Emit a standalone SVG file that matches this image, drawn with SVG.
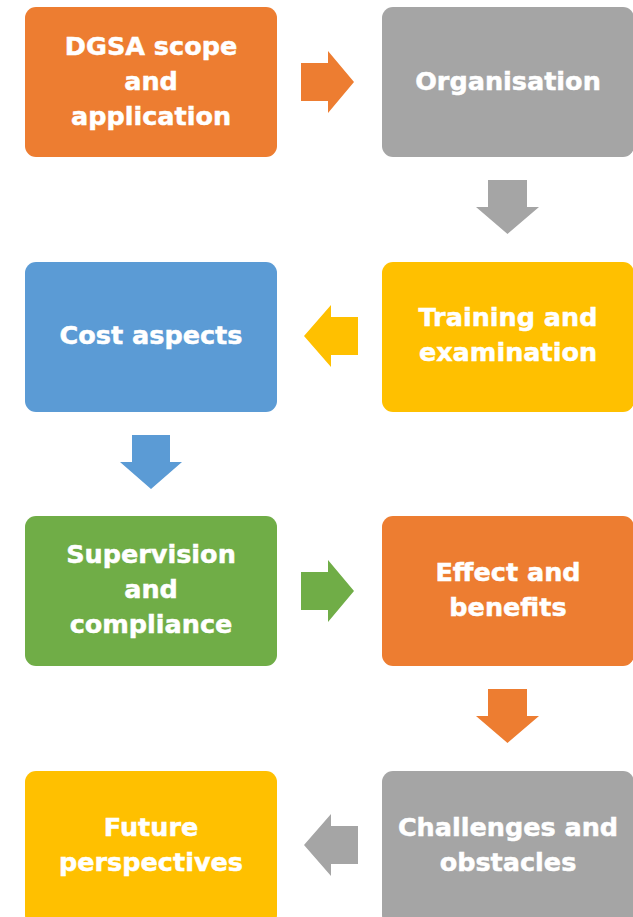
<svg xmlns="http://www.w3.org/2000/svg" width="633" height="917" viewBox="0 0 633 917">
  <style>
    .box { stroke: none; }
    .lbl { font-family: "DejaVu Sans", "Liberation Sans", sans-serif; font-weight: bold; font-size: 25.5px; fill: #ffffff; stroke: #ffffff; stroke-width: 0.5px; text-anchor: middle; }
    .orange { fill: #ED7D31; }
    .gray { fill: #A5A5A5; }
    .yellow { fill: #FFC000; }
    .blue { fill: #5B9BD5; }
    .green { fill: #70AD47; }
  </style>
  <rect width="633" height="917" fill="#ffffff"/>

  <g id="connectors">
    <!-- row 1: right -->
    <polygon class="orange" points="301,63 328,63 328,51 354,82 328,113 328,101 301,101"/>
    <!-- right column: down -->
    <polygon class="gray" points="488,180 527,180 527,207 539,207 507.5,234 476,207 488,207"/>
    <!-- row 2: left -->
    <polygon class="yellow" points="358,317 331,317 331,305 304,336 331,367 331,355 358,355"/>
    <!-- left column: down -->
    <polygon class="blue" points="132,435 170,435 170,462 182,462 151,489 120,462 132,462"/>
    <!-- row 3: right -->
    <polygon class="green" points="301,572 328,572 328,560 354,591 328,622 328,610 301,610"/>
    <!-- right column: down -->
    <polygon class="orange" points="488,689 527,689 527,716 539,716 507.5,743 476,716 488,716"/>
    <!-- row 4: left -->
    <polygon class="gray" points="358,826 331,826 331,814 304,845 331,876 331,864 358,864"/>
  </g>

  <g id="scope">
    <rect class="box orange" x="25" y="7" width="252" height="150" rx="11"/>
    <text class="lbl" x="151" y="55">DGSA scope</text>
    <text class="lbl" x="151" y="90">and</text>
    <text class="lbl" x="151" y="125">application</text>
  </g>
  <g id="organisation">
    <rect class="box gray" x="382" y="7" width="252" height="150" rx="11"/>
    <text class="lbl" x="508" y="90">Organisation</text>
  </g>
  <g id="cost">
    <rect class="box blue" x="25" y="262" width="252" height="150" rx="11"/>
    <text class="lbl" x="151" y="344">Cost aspects</text>
  </g>
  <g id="training">
    <rect class="box yellow" x="382" y="262" width="252" height="150" rx="11"/>
    <text class="lbl" x="508" y="326">Training and</text>
    <text class="lbl" x="508" y="361">examination</text>
  </g>
  <g id="supervision">
    <rect class="box green" x="25" y="516" width="252" height="150" rx="11"/>
    <text class="lbl" x="151" y="563">Supervision</text>
    <text class="lbl" x="151" y="598">and</text>
    <text class="lbl" x="151" y="633">compliance</text>
  </g>
  <g id="effect">
    <rect class="box orange" x="382" y="516" width="252" height="150" rx="11"/>
    <text class="lbl" x="508" y="581">Effect and</text>
    <text class="lbl" x="508" y="616">benefits</text>
  </g>
  <g id="future">
    <rect class="box yellow" x="25" y="771" width="252" height="155" rx="11"/>
    <text class="lbl" x="151" y="836">Future</text>
    <text class="lbl" x="151" y="871">perspectives</text>
  </g>
  <g id="challenges">
    <rect class="box gray" x="382" y="771" width="252" height="155" rx="11"/>
    <text class="lbl" x="508" y="836">Challenges and</text>
    <text class="lbl" x="508" y="871">obstacles</text>
  </g>
</svg>
